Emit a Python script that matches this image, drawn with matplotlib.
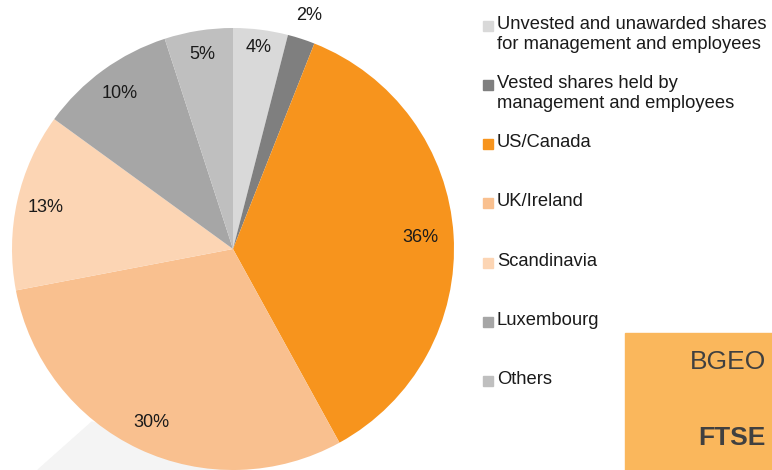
import numpy as np
import matplotlib
matplotlib.use("Agg")
import matplotlib.pyplot as plt
from matplotlib.patches import Rectangle, Polygon

# =============================================================================
# DADOS
# =============================================================================
categorias = [
    "Unvested and unawarded shares\nfor management and employees",
    "Vested shares held by\nmanagement and employees",
    "US/Canada",
    "UK/Ireland",
    "Scandinavia",
    "Luxembourg",
    "Others",
]
valores = [4, 2, 36, 30, 13, 10, 5]
cores = ["#d9d9d9", "#7f7f7f", "#f7941d", "#f9c08f", "#fcd5b4", "#a6a6a6", "#bfbfbf"]
# distância do rótulo em fração do raio
dist_rotulo = [0.92, 1.11, 0.85, 0.87, 0.87, 0.87, 0.89]

plt.rcParams["font.family"] = ["Liberation Sans", "DejaVu Sans"]

W, H = 772, 470
fig = plt.figure(figsize=(W / 100, H / 100), dpi=100)

# forma cinza clara atrás da pizza
fig.patches.append(Polygon(
    [(38 / W, 0), (92 / W, 48 / H), (240 / W, 0)],
    closed=True, transform=fig.transFigure, color="#f4f4f4", zorder=0))

cx, cy, r = 233, 249, 221
ax = fig.add_axes([(cx - r) / W, (H - cy - r) / H, 2 * r / W, 2 * r / H])
ax.set_zorder(1)
wedges, _ = ax.pie(valores, colors=cores, startangle=90, counterclock=False,
                   radius=1, wedgeprops=dict(linewidth=0))
ax.set_xlim(-1, 1)
ax.set_ylim(-1, 1)
ax.set_aspect("equal")
for w in wedges:
    w.set_clip_on(False)

# rótulos de percentual
inicio = 90.0
for v, d in zip(valores, dist_rotulo):
    meio = np.deg2rad(inicio - v * 3.6 / 2)
    ax.text(d * np.cos(meio), d * np.sin(meio), f"{v}%", ha="center",
            va="center", fontsize=13, color="#1a1a1a", clip_on=False)
    inicio -= v * 3.6

# legenda manual
y_legenda = [26, 85, 144, 203, 263, 322, 381]
for nome, cor, y in zip(categorias, cores, y_legenda):
    fig.patches.append(Rectangle((483 / W, 1 - (y + 5) / H), 10 / W, 10 / H,
                                 transform=fig.transFigure, color=cor))
    fig.text(497 / W, 1 - (y - 10) / H, nome, ha="left", va="top",
             fontsize=13.2, color="#1a1a1a", linespacing=1.2)

# caixa laranja
fig.patches.append(Rectangle((625 / W, 0), (W - 625) / W, (H - 333) / H,
                             transform=fig.transFigure, color="#fab75c", zorder=0))
fig.text(766 / W, 1 - 362 / H, "BGEO", ha="right", va="center",
         fontsize=19, color="#404040")
fig.text(766 / W, 1 - 438 / H, "FTSE", ha="right", va="center",
         fontsize=19, color="#404040", fontweight="bold")

plt.savefig("out.png", dpi=100)
plt.close()
